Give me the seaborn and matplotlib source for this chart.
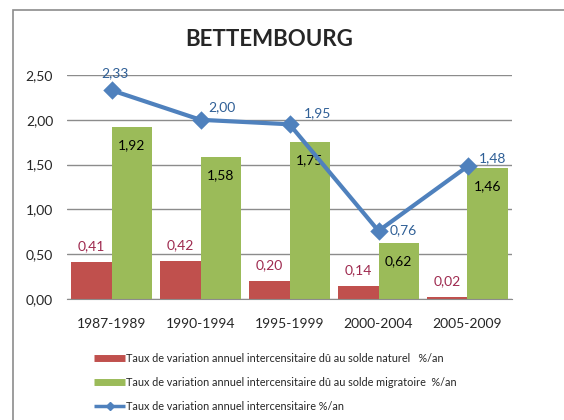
import pandas as pd
import seaborn as sns
import matplotlib.pyplot as plt
from matplotlib.lines import Line2D
from matplotlib.patches import Rectangle

periods = ['1987-1989', '1990-1994', '1995-1999', '2000-2004', '2005-2009']
solde_naturel = [0.41, 0.42, 0.20, 0.14, 0.02]
solde_migratoire = [1.92, 1.58, 1.75, 0.62, 1.46]
taux_total = [2.33, 2.00, 1.95, 0.76, 1.48]

lbl_naturel = 'Taux de variation annuel intercensitaire dû au solde naturel   %/an'
lbl_migratoire = 'Taux de variation annuel intercensitaire dû au solde migratoire  %/an'
lbl_total = 'Taux de variation annuel intercensitaire %/an'

red, green, blue = '#C0504D', '#9BBB59', '#4F81BD'

df = pd.DataFrame({
    'periode': periods * 2,
    'valeur': solde_naturel + solde_migratoire,
    'serie': ['naturel'] * 5 + ['migratoire'] * 5,
})

sns.set_style('white')
plt.rcParams['font.family'] = ['Lato', 'DejaVu Sans']

fig = plt.figure(figsize=(5.64, 4.2), dpi=100)
ax = fig.add_axes([67 / 564, 1 - 299 / 420, 445 / 564, 224 / 420])

sns.barplot(data=df, x='periode', y='valeur', hue='serie',
            palette=[red, green], width=0.9, saturation=1,
            linewidth=0, edgecolor='none',
            legend=False, ax=ax, zorder=2)
sns.pointplot(x=periods, y=taux_total, color=blue, markers='D',
              markersize=7, linewidth=3, ax=ax, zorder=4)

def fmt(v):
    return f'{v:.2f}'.replace('.', ',')

# bar labels
red_bars = ax.patches[:5]
green_bars = ax.patches[5:10]
for b, v in zip(red_bars, solde_naturel):
    ax.annotate(fmt(v), (b.get_x() + b.get_width() / 2, v),
                xytext=(0, 16), textcoords='offset pixels',
                ha='center', va='center', fontsize=10, color='#9E2A4F')
for b, v in zip(green_bars, solde_migratoire):
    ax.annotate(fmt(v), (b.get_x() + b.get_width() / 2, v),
                xytext=(0, -18), textcoords='offset pixels',
                ha='center', va='center', fontsize=10, color='black')

# line labels
offsets = [(3, 17), (21, 13), (28, 11), (25, 1), (25, 8)]
for i, (v, off) in enumerate(zip(taux_total, offsets)):
    ax.annotate(fmt(v), (i, v), xytext=off, textcoords='offset pixels',
                ha='center', va='center', fontsize=10, color='#2F5F96')

ax.set_ylim(0, 2.5)
ax.set_xlim(-0.5, 4.5)
ax.set_yticks([0, 0.5, 1.0, 1.5, 2.0, 2.5])
ax.set_yticklabels([fmt(t) for t in [0, 0.5, 1.0, 1.5, 2.0, 2.5]], fontsize=10)
ax.tick_params(axis='x', labelsize=10, length=0, pad=14)
ax.tick_params(axis='y', length=0, pad=10)
ax.set_xlabel('')
ax.set_ylabel('')
ax.grid(axis='y', color='#8C8C8C', linewidth=1, zorder=0)
ax.set_axisbelow(True)
for s in ['top', 'right', 'left']:
    ax.spines[s].set_visible(False)
ax.spines['bottom'].set_color('#8C8C8C')

fig.text(269 / 564, 1 - 40 / 420, 'BETTEMBOURG', ha='center', va='center',
         fontsize=16, fontweight='bold')

handles = [
    Line2D([], [], color=red, linewidth=5, solid_capstyle='butt'),
    Line2D([], [], color=green, linewidth=5, solid_capstyle='butt'),
    Line2D([], [], color=blue, linewidth=2.5, marker='D', markersize=4,
           solid_capstyle='butt'),
]
fig.legend(handles, [lbl_naturel, lbl_migratoire, lbl_total],
           loc='upper left', bbox_to_anchor=(94 / 564, 1 - 353 / 420),
           frameon=False, fontsize=7.8, handlelength=2.9, handletextpad=0.05,
           labelspacing=1.2, borderpad=0, borderaxespad=0)

# chart border
fig.patches.append(Rectangle((13 / 564, -0.1), 1.2, 1 - 10 / 420 + 0.1,
                             transform=fig.transFigure, fill=False,
                             edgecolor='#8C8C8C', linewidth=1.2))

fig.savefig('out.png', dpi=100)
